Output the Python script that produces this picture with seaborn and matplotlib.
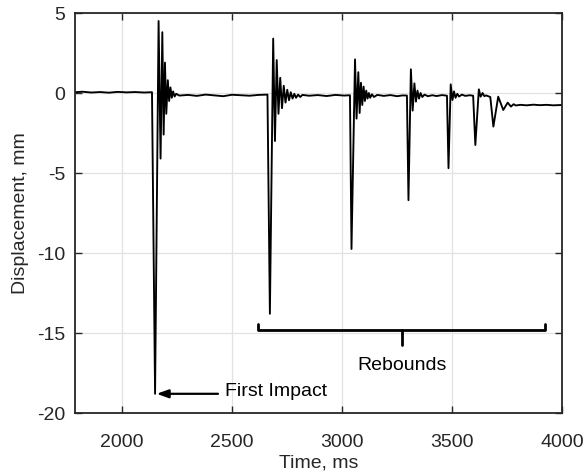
import matplotlib
matplotlib.use("Agg")
import matplotlib.pyplot as plt
import seaborn as sns
import pandas as pd

# ---- data (time in ms, displacement in mm) ----
time_ms = [
    1786, 1820, 1860, 1900, 1940, 1980, 2020, 2060, 2100, 2136,
    # first impact
    2150, 2166, 2175, 2183, 2189, 2195, 2201, 2208, 2214, 2220, 2226, 2232, 2239, 2246,
    2260, 2300, 2340, 2380, 2420, 2460, 2500, 2540, 2580, 2620, 2661,
    # second impact
    2672, 2687, 2695, 2703, 2711, 2719, 2727, 2735, 2743, 2751, 2759, 2767, 2775,
    2783, 2791, 2800, 2810, 2820, 2850, 2890, 2930, 2970, 3010, 3036,
    # third impact
    3043, 3059, 3066, 3074, 3080, 3086, 3092, 3098, 3104, 3110, 3116, 3122, 3128,
    3136, 3145, 3160, 3190, 3220, 3250, 3275, 3295,
    # fourth impact
    3302, 3313, 3321, 3329, 3336, 3343, 3350, 3357, 3365, 3375, 3390, 3410, 3430,
    3455, 3477,
    # fifth impact
    3484, 3494, 3502, 3509, 3516, 3524, 3532, 3545, 3560, 3580, 3596,
    # sixth impact
    3606, 3622, 3630, 3639, 3647, 3655, 3665, 3674,
    # seventh impact
    3688, 3710, 3733, 3753, 3768, 3780, 3790, 3810, 3840, 3870, 3900, 3930,
    3960, 4000,
]
displacement_mm = [
    0.05, 0.08, 0.03, 0.06, 0.02, 0.07, 0.04, 0.06, 0.03, 0.05,
    -18.8, 4.5, -4.1, 3.8, -2.6, 1.9, -1.3, 0.8, -0.5, 0.35, -0.3, 0.1, -0.22, -0.05,
    -0.16, -0.12, -0.18, -0.1, -0.15, -0.2, -0.11, -0.14, -0.17, -0.12, -0.1,
    -13.8, 3.4, -3.0, 2.06, -1.3, 0.95, -0.95, 0.45, -0.6, 0.2, -0.45, 0.05, -0.35,
    -0.05, -0.3, -0.1, -0.25, -0.12, -0.17, -0.13, -0.19, -0.12, -0.16, -0.14,
    -9.75, 2.1, -1.6, 1.3, -1.25, 0.64, -0.75, 0.4, -0.5, 0.15, -0.35, 0.0, -0.3,
    -0.08, -0.25, -0.12, -0.18, -0.13, -0.2, -0.15, -0.16,
    -6.7, 1.48, -1.1, 0.6, -0.54, 0.15, -0.35, 0.0, -0.25, -0.1, -0.2, -0.14, -0.19,
    -0.13, -0.17,
    -4.7, 0.54, -0.44, 0.1, -0.3, -0.05, -0.22, -0.1, -0.18, -0.14, -0.17,
    -3.25, 0.23, -0.23, 0.0, -0.2, -0.15, -0.2, -0.25,
    -2.1, -0.23, -1.06, -0.6, -0.85, -0.7, -0.78, -0.74, -0.77, -0.73, -0.76, -0.74,
    -0.77, -0.75,
]

x_ticks = [2000, 2500, 3000, 3500, 4000]
y_ticks = [-20, -15, -10, -5, 0, 5]

df = pd.DataFrame({"Time, ms": time_ms, "Displacement, mm": displacement_mm})

sns.set_style("whitegrid")
plt.rcParams["font.family"] = ["Liberation Sans", "DejaVu Sans"]

fig = plt.figure(figsize=(5.87, 4.75), dpi=100)
ax = fig.add_axes([75 / 587, 62 / 475, 487 / 587, 400 / 475])

sns.lineplot(data=df, x="Time, ms", y="Displacement, mm", ax=ax,
             sort=False, estimator=None, color="black", linewidth=1.35)

ax.set_xlim(1786, 4000)
ax.set_ylim(-20, 5)
ax.set_xticks(x_ticks)
ax.set_yticks(y_ticks)
ax.set_xticklabels([str(v) for v in x_ticks])
ax.set_yticklabels([str(v) for v in y_ticks])

ax.grid(True, color="#e2e2e2", linewidth=0.9)
for s in ax.spines.values():
    s.set_color("#262626")
    s.set_linewidth(1.3)
    s.set_visible(True)
ax.tick_params(axis="both", direction="in", length=5, width=1, color="#262626",
               labelsize=14, labelcolor="#262626", top=True, right=True,
               bottom=True, left=True)
ax.tick_params(axis="x", pad=15)
ax.tick_params(axis="y", pad=7)
ax.set_xlabel("Time, ms", fontsize=14, color="#262626", labelpad=3)
ax.set_ylabel("Displacement, mm", fontsize=14, color="#262626", labelpad=6)

# "First Impact" arrow
ax.annotate("", xy=(2157, -18.8), xytext=(2436, -18.8),
            arrowprops=dict(arrowstyle="-|>,head_length=0.7,head_width=0.25",
                            color="black", lw=1.6, shrinkA=0, shrinkB=0))
ax.text(2468, -18.65, "First Impact", fontsize=14, color="black",
        ha="left", va="center")

# "Rebounds" bracket
ax.plot([2618, 2618, 3922, 3922], [-14.45, -14.8, -14.8, -14.45],
        color="black", lw=2, solid_joinstyle="round")
ax.plot([3272, 3272], [-14.8, -15.75], color="black", lw=2)
ax.text(3272, -17.05, "Rebounds", fontsize=14, color="black",
        ha="center", va="center")

fig.savefig("out.png", dpi=100)
